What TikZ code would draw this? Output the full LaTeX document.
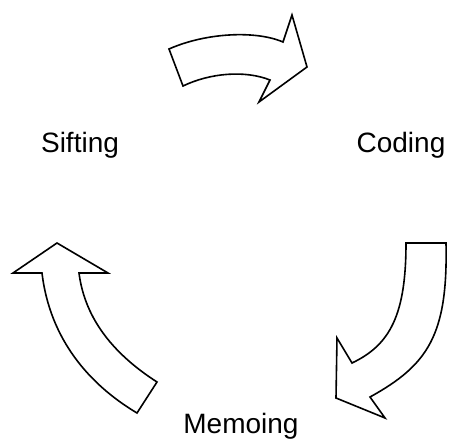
\documentclass[tikz,border=0pt]{standalone}
\usepackage{fontspec}
\setmainfont{Liberation Sans}
\usepackage{tikz}

\begin{document}
\begin{tikzpicture}[x=1pt,y=-1pt,font=\fontsize{28}{34}\selectfont]
    \tikzset{
        blockarrow/.style={
            draw=black,
            fill=white,
            line width=1.6pt,
            line join=miter
        },
        stage/.style={
            anchor=base,
            inner sep=0pt
        }
    }

    \useasboundingbox (0,0) rectangle (451,439);

    \node[stage] (sift) at (80,153) {Sifting};
    \node[stage] (code) at (401,153) {Coding};
    \node[stage] (memo) at (241,433) {Memoing};

    % sifting -> coding
    \draw[blockarrow] (169,49) .. controls (205,33) and (255,30) .. (283,42)
        -- (292,15) -- (307,67) -- (259,102) -- (270,80)
        .. controls (245,70) and (210,73) .. (183,86) -- cycle;

    % coding -> memoing
    \draw[blockarrow] (406,243) -- (446,243)
        .. controls (448,335) and (428,365) .. (370,397)
        -- (385,418) -- (336,398) -- (337,338) -- (352,363)
        .. controls (390,345) and (406,315) .. (406,243) -- cycle;

    % memoing -> sifting
    \draw[blockarrow] (57,243) -- (108,273) -- (79,273)
        .. controls (85,320) and (115,355) .. (157,382)
        -- (137,413) .. controls (90,385) and (50,340) .. (42,273)
        -- (13,273) -- cycle;
\end{tikzpicture}
\end{document}
